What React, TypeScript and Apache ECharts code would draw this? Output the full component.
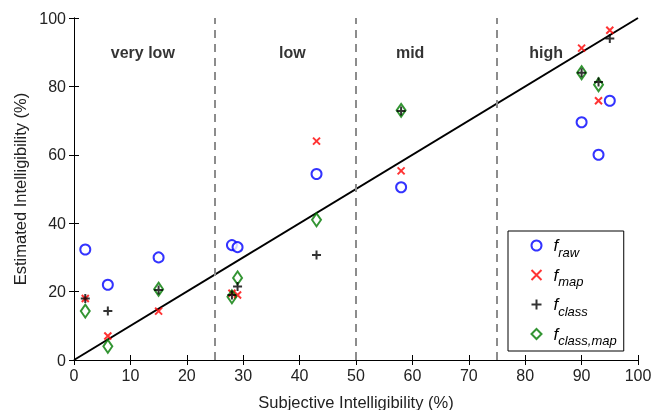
import React, { useEffect, useRef } from "react";
import * as echarts from "echarts";

const subjX = [2, 6, 15, 28, 29, 43, 58, 90, 93, 95];
const fRaw = [32.3, 22, 30, 33.6, 33, 54.4, 50.5, 69.5, 60, 75.8];
const fMap = [18, 7, 14.3, 19.5, 19, 64, 55.3, 91.2, 75.8, 96.4];
const fClass = [18, 14.3, 20.5, 19, 21.5, 30.7, 72.8, 84, 81.3, 94];
const fClassMapX = [2, 6, 15, 28, 29, 43, 58, 90, 93];
const fClassMap = [14.3, 4, 20.7, 18.5, 24, 41, 73, 84, 80.5];
const regionNames = ["very low", "low", "mid", "high"];
const regionLabelX = [12.2, 38.7, 59.6, 83.7];
const regionLabelY = 90;
const regionBounds = [25, 50, 75];
const seriesNames = ["raw", "map", "class", "class,map"];

const FONT = "Liberation Sans, Arial, Helvetica, sans-serif";
const XPATH = "path://M0,0L10,10M10,0L0,10";
const PLUSPATH = "path://M5,0L5,10M0,5L10,5";

function pairs(xs: number[], ys: number[]) {
  return ys.map((y, i) => [xs[i], y]);
}

export default function App() {
  const ref = useRef<HTMLDivElement>(null);
  useEffect(() => {
    const chart = echarts.init(ref.current!, null, { renderer: "svg" });
    const axisCommon = {
      min: 0,
      max: 100,
      axisLine: { show: true, lineStyle: { color: "#000", width: 1 } },
      axisTick: { show: true, inside: true, length: 5, lineStyle: { color: "#000" } },
      splitLine: { show: false },
    };
    chart.setOption({
      animation: false,
      grid: { left: 74, right: 28, top: 18, bottom: 50, containLabel: false, outerBoundsMode: "none" },
      xAxis: [
        {
          ...axisCommon,
          type: "value",
          interval: 10,
          position: "bottom",
          axisLabel: { fontSize: 16, color: "#222", fontFamily: FONT, margin: 7 },
          name: "Subjective Intelligibility (%)",
          nameLocation: "middle",
          nameGap: 33,
          nameTextStyle: { fontSize: 16.5, color: "#222", fontFamily: FONT },
        },
        {
          ...axisCommon,
          type: "value",
          interval: 10,
          position: "top",
          axisLabel: { show: false },
        },
      ],
      yAxis: [
        {
          ...axisCommon,
          type: "value",
          interval: 20,
          position: "left",
          axisLabel: { fontSize: 16, color: "#222", fontFamily: FONT, margin: 8 },
          name: "Estimated Intelligibility (%)",
          nameLocation: "middle",
          nameGap: 40,
          nameTextStyle: { fontSize: 16.5, color: "#222", fontFamily: FONT },
        },
        {
          ...axisCommon,
          type: "value",
          interval: 20,
          position: "right",
          axisLabel: { show: false },
        },
      ],
      legend: {
        orient: "vertical",
        left: 508,
        top: 231,
        data: seriesNames,
        borderColor: "#000",
        borderWidth: 1,
        backgroundColor: "#fff",
        padding: [6, 7, 4, 21],
        itemGap: 8,
        itemWidth: 10,
        itemHeight: 10,
        formatter: (name: string) => `{f|f}{s|${name}}`,
        textStyle: {
          rich: {
            f: { fontStyle: "italic", fontSize: 17, fontFamily: FONT, color: "#000", padding: [0, 0, 0, 7] },
            s: { fontStyle: "italic", fontSize: 13, fontFamily: FONT, color: "#000", padding: [13, 0, 0, 0] },
          },
        },
      },
      series: [
        {
          type: "line",
          data: [[0, 0], [100, 100]],
          symbol: "none",
          lineStyle: { color: "#000", width: 2 },
          silent: true,
          z: 1,
          markLine: {
            silent: true,
            symbol: "none",
            label: { show: false },
            lineStyle: { color: "#8c8c8c", width: 2, type: [8, 6] },
            data: regionBounds.map((b) => ({ xAxis: b })),
          },
        },
        {
          type: "scatter",
          data: regionNames.map((n, i) => ({ name: n, value: [regionLabelX[i], regionLabelY] })),
          symbolSize: 0,
          silent: true,
          label: {
            show: true,
            position: "inside",
            formatter: (p: any) => p.name,
            fontSize: 16,
            fontWeight: "bold",
            fontFamily: FONT,
            color: "#000",
          },
        },
        {
          name: "raw",
          type: "scatter",
          data: pairs(subjX, fRaw),
          symbol: "circle",
          symbolSize: 10,
          itemStyle: { color: "#fff", borderColor: "#0000ff", borderWidth: 2 },
          z: 3,
        },
        {
          name: "map",
          type: "scatter",
          data: pairs(subjX, fMap),
          symbol: XPATH,
          symbolSize: 7,
          itemStyle: { color: "none", borderColor: "#ff0000", borderWidth: 2 },
          z: 3,
        },
        {
          name: "class",
          type: "scatter",
          data: pairs(subjX, fClass),
          symbol: PLUSPATH,
          symbolSize: 9,
          itemStyle: { color: "none", borderColor: "#000", borderWidth: 2 },
          z: 4,
        },
        {
          name: "class,map",
          type: "scatter",
          data: pairs(fClassMapX, fClassMap),
          symbol: "diamond",
          symbolSize: [9, 13],
          itemStyle: { color: "none", borderColor: "#007a00", borderWidth: 2 },
          z: 3,
        },
      ],
    });
    return () => chart.dispose();
  }, []);
  return <div ref={ref} style={{ position: "fixed", left: 0, top: 0, width: 666, height: 410 }} />;
}
